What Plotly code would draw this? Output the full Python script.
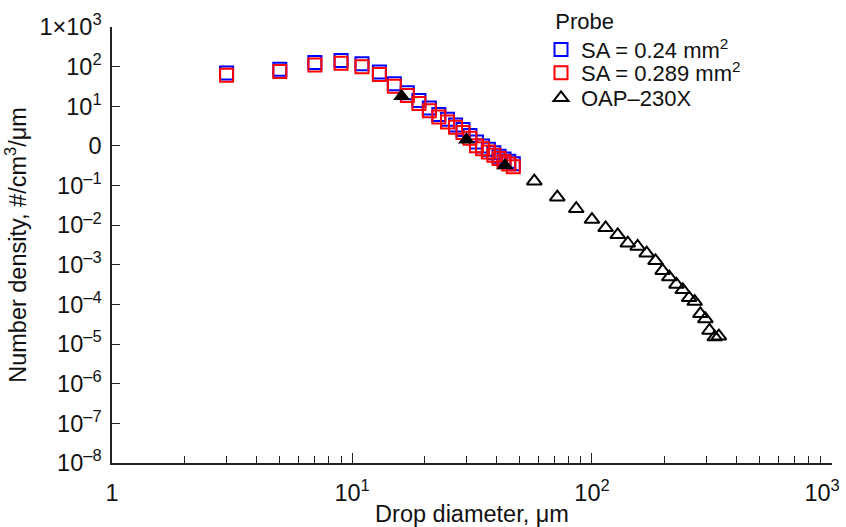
import plotly.graph_objects as go

# Drop diameter (um) for the two SA probe curves
sa_diam = [3, 5, 7, 9, 11, 13, 15, 17, 19, 21, 23, 25, 27, 29, 31, 33, 35, 37, 39, 41, 43, 45, 47]
sa024_n = [69, 86, 128, 142, 118, 73, 37, 22, 14, 9.0, 6.2, 4.7, 3.35, 2.6, 1.84, 1.25, 0.99,
           0.82, 0.67, 0.55, 0.47, 0.41, 0.355]
sa0289_n = [61, 75, 110, 121, 100, 63, 32, 18.8, 11.8, 7.7, 5.4, 4.0, 2.96, 2.17, 1.55, 1.01, 0.85,
            0.70, 0.58, 0.48, 0.40, 0.35, 0.30]

# OAP-230X (open triangles)
oap_diam = [57.5, 71.7, 86, 100, 114, 128, 141, 155, 169, 184, 197, 210, 225, 239, 254, 268,
            283, 297, 309, 325, 338]
oap_n = [0.129, 0.051, 0.026, 0.0139, 0.0086, 0.0057, 0.0035, 0.0029, 0.00196, 0.00126,
         0.00071, 0.00049, 0.00032, 0.000234, 0.000147, 0.000118, 5.8e-5, 4.3e-5, 2.2e-5,
         1.5e-5, 1.58e-5]

# OAP-230X overlap points (filled triangles)
oapf_diam = [16.1, 30, 43.4]
oapf_n = [18, 1.43, 0.32]

NB = "\u00a0"
ytick_vals = [1e3, 1e2, 1e1, 1, 1e-1, 1e-2, 1e-3, 1e-4, 1e-5, 1e-6, 1e-7, 1e-8]
ytick_text = ["1×10<sup>3</sup>", "10<sup>2</sup>", "10<sup>1</sup>", "0",
              "10<sup>–1</sup>", "10<sup>–2</sup>", "10<sup>–3</sup>", "10<sup>–4</sup>",
              "10<sup>–5</sup>", "10<sup>–6</sup>", "10<sup>–7</sup>", "10<sup>–8</sup>"]
xtick_vals = [1, 10, 100, 1000]
xtick_text = ["1", "10<sup>1</sup>", "10<sup>2</sup>", "10<sup>3</sup>" + NB * 3]
x_minor = [m * d for d in (1, 10, 100) for m in range(2, 10)]

FONT = "Liberation Sans, Arial, sans-serif"
TXT = "#111111"
FS = 23.5
LFS = 22

fig = go.Figure()
fig.add_trace(go.Scatter(
    x=sa_diam, y=sa024_n, mode="markers", name="SA = 0.24 mm<sup>2</sup>", legend="legend",
    marker=dict(symbol="square-open", size=13, color="#0000ff", line=dict(width=2))))
fig.add_trace(go.Scatter(
    x=sa_diam, y=sa0289_n, mode="markers", name="SA = 0.289 mm<sup>2</sup>", legend="legend2",
    marker=dict(symbol="square-open", size=13, color="#ff0000", line=dict(width=2))))
fig.add_trace(go.Scatter(
    x=oap_diam, y=oap_n, mode="markers", name="OAP–230X", legend="legend3",
    marker=dict(symbol="triangle-up-open", size=13, color="#000000", line=dict(width=2))))
fig.add_trace(go.Scatter(
    x=oapf_diam, y=oapf_n, mode="markers", name="OAP–230X", showlegend=False,
    marker=dict(symbol="triangle-up", size=15, color="#000000", line=dict(width=0))))

LX = 541 / 846


def leg(top_px, title=None):
    d = dict(xref="container", yref="container", x=LX, y=1 - top_px / 527,
             xanchor="left", yanchor="top", bgcolor="rgba(0,0,0,0)",
             font=dict(family=FONT, size=LFS, color=TXT), itemwidth=30, tracegroupgap=0)
    if title:
        d["title"] = dict(text=title, font=dict(family=FONT, size=LFS, color=TXT))
    return d


fig.update_layout(
    width=846, height=527,
    margin=dict(l=112, r=14, t=27, b=64, autoexpand=False),
    paper_bgcolor="white", plot_bgcolor="white",
    font=dict(family=FONT, size=FS, color=TXT),
    showlegend=True,
    legend=leg(0, NB * 2 + "Probe"),
    legend2=leg(52),
    legend3=leg(77),
    xaxis=dict(
        type="log", range=[-0.0005, 3.0005], automargin=False,
        tickmode="array", tickvals=xtick_vals, ticktext=xtick_text,
        tickfont=dict(family=FONT, size=FS, color=TXT),
        ticklabeloverflow="allow",
        ticks="inside", ticklen=10, tickwidth=1.3, tickcolor="#222",
        showline=True, linecolor="#222", linewidth=1.5,
        showgrid=False, zeroline=False, mirror=False,
        minor=dict(ticks="inside", ticklen=7, tickwidth=1.3, tickcolor="#222",
                   tickvals=x_minor, showgrid=False),
        title=dict(text="Drop diameter, μm", standoff=2,
                   font=dict(family=FONT, size=FS, color=TXT)),
        ticklabelstandoff=8,
    ),
    yaxis=dict(
        type="log", range=[-8.0005, 3.0005], automargin=False,
        tickmode="array", tickvals=ytick_vals, ticktext=ytick_text,
        tickfont=dict(family=FONT, size=FS, color=TXT),
        ticklabeloverflow="allow",
        ticks="inside", ticklen=8, tickwidth=1.3, tickcolor="#222",
        showline=True, linecolor="#222", linewidth=1.5,
        showgrid=False, zeroline=False, mirror=False,
        title=dict(text="Number density, #/cm<sup>3</sup>/μm", standoff=6,
                   font=dict(family=FONT, size=FS, color=TXT)),
        ticklabelstandoff=4,
    ),
)

fig.write_html("out.html")
